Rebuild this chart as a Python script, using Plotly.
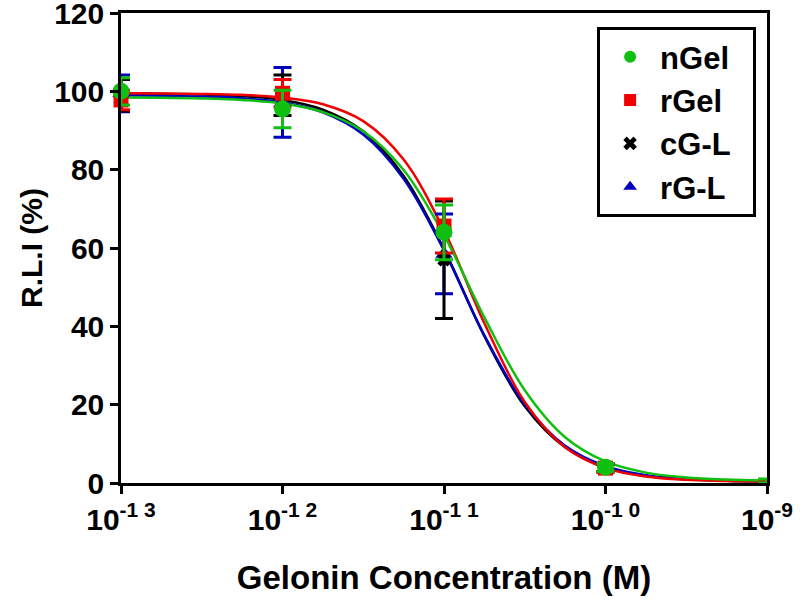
import numpy as np
import plotly.graph_objects as go

# Data points (concentration in M)
conc = [1e-13, 1e-12, 1e-11, 1e-10, 1e-9]
series_names = ["nGel", "rGel", "cG-L", "rG-L"]
ngel_mean = [100.0, 95.5, 64.0, 4.0, 0.5]
ngel_err = [3.5, 4.8, 7.0, 1.0, 0.5]
rgel_mean = [97.8, 99.5, 65.6, 3.8, 0.4]
rgel_err = [2.5, 3.5, 6.9, 1.0, 0.4]
cgl_mean = [99.0, 99.0, 57.0, 3.8, 0.4]
cgl_err = [4.0, 5.2, 15.0, 1.0, 0.4]
rgl_mean = [99.5, 97.2, 58.5, 3.9, 0.4]
rgl_err = [4.7, 8.9, 10.2, 1.0, 0.4]

# Fitted dose-response curves
curve_logx = [-13, -12.75, -12.5, -12.25, -12, -11.75, -11.5, -11.25, -11,
              -10.75, -10.5, -10.25, -10, -9.75, -9.5, -9.25, -9]
ngel_curve = [98.45, 98.38, 98.2, 97.8, 96.9, 94.7, 89.8, 79.9, 63.3,
              42.3, 23.7, 11.7, 5.5, 2.65, 1.41, 0.88, 0.66]
rgel_curve = [99.5, 99.44, 99.35, 99.1, 98.4, 96.7, 92.4, 82.6, 64.5,
              40.8, 20.7, 9.1, 3.8, 1.65, 0.81, 0.5, 0.4]
cgl_curve = [99.45, 99.39, 99.2, 98.8, 97.8, 95.35, 89.8, 78.4, 59.7,
             37.5, 19.6, 9.1, 4.04, 1.85, 0.93, 0.55, 0.4]
rgl_curve = [99.0, 98.87, 98.69, 98.24, 97.17, 94.65, 89.0, 77.7, 59.4,
             37.7, 20.1, 9.48, 4.28, 1.97, 0.99, 0.58, 0.45]

x_tickvals = [1e-13, 1e-12, 1e-11, 1e-10, 1e-9]
x_ticktext = ["10<sup>-1 3</sup>", "10<sup>-1 2</sup>", "10<sup>-1 1</sup>",
              "10<sup>-1 0</sup>", "10<sup>-9</sup>"]
y_tickvals = [0, 20, 40, 60, 80, 100, 120]

colors = {"nGel": "#10C010", "rGel": "#F00000", "cG-L": "#000000", "rG-L": "#0000C0"}
symbols = {"nGel": "circle", "rGel": "square", "cG-L": "x", "rG-L": "triangle-up"}
sizes = {"nGel": 17, "rGel": 15, "cG-L": 12, "rG-L": 15}
means = {"nGel": ngel_mean, "rGel": rgel_mean, "cG-L": cgl_mean, "rG-L": rgl_mean}
errs = {"nGel": ngel_err, "rGel": rgel_err, "cG-L": cgl_err, "rG-L": rgl_err}
curves = {"nGel": ngel_curve, "rGel": rgel_curve, "cG-L": cgl_curve, "rG-L": rgl_curve}

curve_x = [10 ** v for v in curve_logx]

fig = go.Figure()
draw_order = ["cG-L", "rG-L", "rGel", "nGel"]
for name in draw_order:
    fig.add_trace(go.Scatter(
        x=curve_x, y=curves[name], mode="lines",
        line=dict(color=colors[name], width=2.5, shape="spline"),
        showlegend=False, hoverinfo="skip", cliponaxis=False))

legend_rank = {"nGel": 1, "rGel": 2, "cG-L": 3, "rG-L": 4}
pad = "\u00a0\u00a0"
for name in ["rG-L", "cG-L", "rGel", "nGel"]:
    fig.add_trace(go.Scatter(
        x=conc, y=means[name], mode="markers", name=name + pad,
        marker=dict(color=colors[name], symbol=symbols[name], size=sizes[name],
                    line=dict(width=0)),
        error_y=dict(type="data", array=errs[name], color=colors[name],
                     thickness=3, width=9),
        legendrank=legend_rank[name], cliponaxis=False))

fig.update_layout(
    width=800, height=601,
    margin=dict(l=121, r=33, t=13, b=118, autoexpand=False),
    paper_bgcolor="white", plot_bgcolor="white",
    font=dict(family="Liberation Sans, Arial, sans-serif", color="black", size=30, weight="bold"),
    legend=dict(x=0.737, y=0.97, xanchor="left", yanchor="top",
                bordercolor="black", borderwidth=3, bgcolor="white",
                font=dict(size=31, weight="bold"), itemsizing="constant",
                itemwidth=50, tracegroupgap=0),
    showlegend=True,
)
fig.update_xaxes(
    type="log", range=[-13, -9], tickvals=x_tickvals, ticktext=x_ticktext,
    showline=True, linecolor="black", linewidth=2.5, mirror=True,
    ticks="outside", ticklen=8, tickwidth=2.5, tickcolor="black",
    showgrid=False, zeroline=False, ticklabeloverflow="allow", automargin=False,
    tickfont=dict(size=30, weight="bold"),
    title=dict(text="Gelonin Concentration (M)", font=dict(size=33, weight="bold"), standoff=32),
)
fig.update_yaxes(
    range=[0, 120], tickvals=y_tickvals,
    showline=True, linecolor="black", linewidth=2.5, mirror=True,
    ticks="outside", ticklen=8, tickwidth=2.5, tickcolor="black",
    showgrid=False, zeroline=False, ticklabeloverflow="allow", automargin=False,
    tickfont=dict(size=30, weight="bold"),
    title=dict(text="R.L.I (%)", font=dict(size=30, weight="bold"), standoff=3),
)

fig.write_html("out.html", config={"displayModeBar": False},
               post_script="document.body.style.margin='0';")
